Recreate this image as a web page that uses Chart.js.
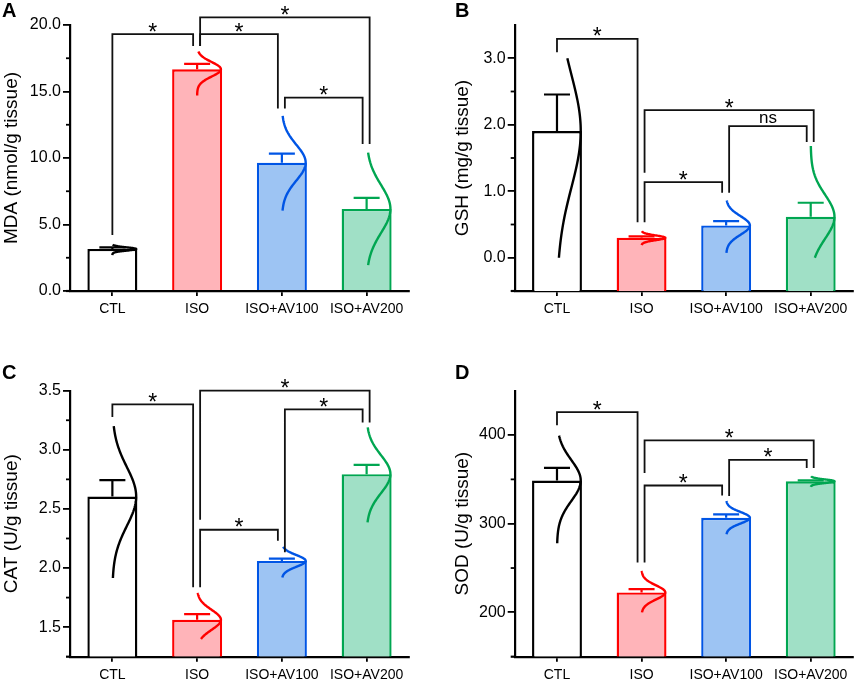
<!DOCTYPE html>
<html>
<head>
<meta charset="utf-8">
<script src="https://cdn.jsdelivr.net/npm/chart.js@4.4.1/dist/chart.umd.min.js"></script>
<style>
  html, body { margin: 0; padding: 0; background: #fff; }
  #fig { position: relative; width: 858px; height: 683px; }
  #fig canvas { position: absolute; }
</style>
</head>
<body>
<div id="fig">
  <canvas id="panelA" width="429" height="341" style="left:0;top:0"></canvas>
  <canvas id="panelB" width="429" height="341" style="left:429px;top:0"></canvas>
  <canvas id="panelC" width="429" height="342" style="left:0;top:341px"></canvas>
  <canvas id="panelD" width="429" height="342" style="left:429px;top:341px"></canvas>
</div>
<script>
const groups = ['CTL', 'ISO', 'ISO+AV100', 'ISO+AV200'];

// A - MDA
const mdaMean = [3.16, 16.67, 9.65, 6.17];
const mdaErr = [0.12, 0.40, 0.68, 0.83];
const mdaLow = [2.7, 14.7, 6.04, 1.95];
const mdaHigh = [3.5, 18.0, 13.16, 10.4];
const mdaSd = [0.12, 0.55, 1.35, 1.8];
const mdaRange = [0, 20];
const mdaTicks = [0, 5, 10, 15, 20];
// [from, to, bracket level, left leg end, right leg end, label]
const mdaPairs = [
  [0, 1, 19.32, 4.21, 18.42, '*'],
  [1, 2, 19.32, 18.42, 13.73, '*'],
  [1, 3, 20.57, 18.42, 11.05, '*'],
  [2, 3, 14.54, 13.73, 11.05, '*']
];

// B - GSH
const gshMean = [1.905, 0.30, 0.486, 0.617];
const gshErr = [0.55, 0.02, 0.064, 0.21];
const gshLow = [0.0, 0.19, 0.075, 0.0];
const gshHigh = [3.0, 0.40, 0.86, 1.68];
const gshSd = [0.85, 0.035, 0.14, 0.33];
const gshRange = [-0.5, 3.5];
const gshTicks = [0, 1, 2, 3];
const gshPairs = [
  [0, 1, 3.29, 3.09, 0.535, '*'],
  [1, 2, 1.137, 0.535, 0.977, '*'],
  [1, 3, 2.22, 1.278, 1.74, '*'],
  [2, 3, 1.98, 0.977, 1.74, 'ns']
];

// C - CAT
const catMean = [2.605, 1.562, 2.06, 2.794];
const catErr = [0.138, 0.048, 0.02, 0.079];
const catLow = [1.916, 1.40, 1.92, 2.386];
const catHigh = [3.2, 1.79, 2.18, 3.19];
const catSd = [0.25, 0.085, 0.05, 0.16];
const catRange = [1.25, 3.5];
const catTicks = [1.5, 2.0, 2.5, 3.0, 3.5];
const catPairs = [
  [0, 1, 3.385, 3.278, 1.838, '*'],
  [1, 2, 2.324, 1.838, 2.231, '*'],
  [1, 3, 3.5, 2.409, 3.23, '*'],
  [2, 3, 3.342, 2.133, 3.23, '*']
];

// D - SOD
const sodMean = [348.7, 222.5, 306.7, 347.9];
const sodErr = [14.2, 3.7, 3.8, 1.0];
const sodLow = [277.9, 200, 288, 341.6];
const sodHigh = [399.3, 246.8, 325.5, 353.6];
const sodSd = [23, 8, 6.5, 2];
const sodRange = [150, 450];
const sodTicks = [200, 300, 400];
const sodPairs = [
  [0, 1, 425.8, 410.9, 256.2, '*'],
  [1, 2, 343.1, 256.2, 331.8, '*'],
  [1, 3, 394.0, 357.3, 362.9, '*'],
  [2, 3, 371.9, 331.1, 362.9, '*']
];

// styles
const edgeColors = ['#000000', '#ff0000', '#0055e5', '#00a651'];
const fillColors = ['#ffffff', '#ffb4b9', '#9dc4f3', '#a0e0c6'];
const legSides = [[0, -1], [1, -1], [1, 1], [1, -1]];
const FONT = '"Liberation Sans", Arial, sans-serif';

Chart.defaults.font.family = FONT;
Chart.defaults.color = '#000';

function legShift(side) {
  return side < 0 ? -4 : side > 0 ? 3 : 0;
}

const overlay = {
  id: 'overlay',
  afterDatasetsDraw(chart, args, o) {
    const ctx = chart.ctx;
    const ys = chart.scales.y;
    const area = chart.chartArea;
    const bars = chart.getDatasetMeta(0).data;
    const py = v => ys.getPixelForValue(v);
    ctx.save();

    // x axis runs a little past the y axis on the left
    ctx.strokeStyle = '#000';
    ctx.lineWidth = 2.2;
    ctx.beginPath();
    ctx.moveTo(area.left - 4, area.bottom);
    ctx.lineTo(area.left, area.bottom);
    ctx.stroke();

    // minor ticks half way between the labelled ones
    ctx.lineWidth = 1.8;
    for (let k = 0; k < o.ticks.length - 1; k++) {
      const yy = py((o.ticks[k] + o.ticks[k + 1]) / 2);
      ctx.beginPath();
      ctx.moveTo(area.left - 4, yy);
      ctx.lineTo(area.left, yy);
      ctx.stroke();
    }

    // error bars (mean + SEM)
    bars.forEach((b, i) => {
      const y0 = py(o.mean[i]);
      const y1 = py(o.mean[i] + o.err[i]);
      ctx.strokeStyle = edgeColors[i];
      ctx.lineWidth = 2.2;
      ctx.beginPath();
      ctx.moveTo(b.x, y0);
      ctx.lineTo(b.x, y1);
      ctx.moveTo(b.x - 13, y1);
      ctx.lineTo(b.x + 13, y1);
      ctx.stroke();
    });

    // normal curves on the right half of each bar
    bars.forEach((b, i) => {
      const amp = b.width / 2 - 1.2;
      ctx.strokeStyle = edgeColors[i];
      ctx.lineWidth = 2.4;
      ctx.beginPath();
      const n = 80;
      for (let s = 0; s <= n; s++) {
        const v = o.low[i] + (o.high[i] - o.low[i]) * s / n;
        const z = (v - o.mean[i]) / o.sd[i];
        const xx = b.x + amp * Math.exp(-0.5 * z * z);
        if (s === 0) ctx.moveTo(xx, py(v));
        else ctx.lineTo(xx, py(v));
      }
      ctx.stroke();
    });

    // significance brackets
    ctx.strokeStyle = '#111';
    ctx.lineWidth = 1.8;
    ctx.fillStyle = '#000';
    ctx.textAlign = 'center';
    ctx.textBaseline = 'alphabetic';
    o.pairs.forEach((p, k) => {
      const [i, j, top, endL, endR, label] = p;
      const xl = bars[i].x + legShift(legSides[k][0]);
      const xr = bars[j].x + legShift(legSides[k][1]);
      const yt = py(top);
      ctx.beginPath();
      ctx.moveTo(xl, py(endL));
      ctx.lineTo(xl, yt);
      ctx.lineTo(xr, yt);
      ctx.lineTo(xr, py(endR));
      ctx.stroke();
      const xm = (xl + xr) / 2;
      if (label === '*') {
        ctx.font = '23px ' + FONT;
        ctx.fillText(label, xm, yt + 5.5);
      } else {
        ctx.font = '17px ' + FONT;
        ctx.fillText(label, xm, yt - 3.5);
      }
    });

    // panel letter
    ctx.font = 'bold 20px ' + FONT;
    ctx.textAlign = 'left';
    ctx.fillText(o.letter, o.letterX, o.letterY);
    ctx.restore();
  }
};

function makePanel(id, d, lay) {
  new Chart(document.getElementById(id), {
    type: 'bar',
    data: {
      labels: groups,
      datasets: [{
        data: d.mean,
        base: d.range[0],
        backgroundColor: fillColors,
        borderColor: edgeColors,
        borderWidth: 2.4,
        borderSkipped: 'start',
        barPercentage: 0.59,
        categoryPercentage: 1
      }]
    },
    options: {
      responsive: false,
      animation: false,
      events: [],
      layout: { padding: lay.pad },
      plugins: {
        legend: { display: false },
        tooltip: { enabled: false },
        overlay: {
          mean: d.mean, err: d.err, low: d.low, high: d.high, sd: d.sd,
          ticks: d.ticks, pairs: d.pairs,
          letter: lay.letter, letterX: lay.letterX, letterY: lay.letterY
        }
      },
      scales: {
        x: {
          grid: { offset: false, drawOnChartArea: false, tickLength: 5, color: '#000', lineWidth: 1.8 },
          border: { color: '#000', width: 2.2 },
          ticks: { color: '#000', font: { size: 14 }, padding: 5, maxRotation: 0, autoSkip: false },
          afterFit: s => { s.height = lay.xHeight; }
        },
        y: {
          min: d.range[0],
          max: d.range[1],
          grid: { drawOnChartArea: false, tickLength: 7, color: '#000', lineWidth: 1.8 },
          border: { color: '#000', width: 2.2 },
          ticks: {
            color: '#000',
            font: { size: 16 },
            padding: 2,
            callback: v => Number(v).toFixed(d.digits)
          },
          afterBuildTicks: s => { s.ticks = d.ticks.map(v => ({ value: v })); },
          afterFit: s => { s.width = lay.yWidth; },
          title: { display: true, text: d.title, color: '#000', font: { size: 19 }, padding: 0 }
        }
      }
    },
    plugins: [overlay]
  });
}

makePanel('panelA',
  { mean: mdaMean, err: mdaErr, low: mdaLow, high: mdaHigh, sd: mdaSd, range: mdaRange,
    ticks: mdaTicks, pairs: mdaPairs, digits: 1, title: 'MDA (nmol/g tissue)' },
  { pad: { left: 0, top: 25, right: 20, bottom: 0 }, yWidth: 70, xHeight: 50,
    letter: 'A', letterX: 2, letterY: 17 });

makePanel('panelB',
  { mean: gshMean, err: gshErr, low: gshLow, high: gshHigh, sd: gshSd, range: gshRange,
    ticks: gshTicks, pairs: gshPairs, digits: 1, title: 'GSH (mg/g tissue)' },
  { pad: { left: 22.3, top: 25, right: 5, bottom: 0 }, yWidth: 63.4, xHeight: 50,
    letter: 'B', letterX: 26, letterY: 17 });

makePanel('panelC',
  { mean: catMean, err: catErr, low: catLow, high: catHigh, sd: catSd, range: catRange,
    ticks: catTicks, pairs: catPairs, digits: 1, title: 'CAT (U/g tissue)' },
  { pad: { left: 0, top: 49.7, right: 20, bottom: 0 }, yWidth: 70, xHeight: 26.3,
    letter: 'C', letterX: 2, letterY: 37.5 });

makePanel('panelD',
  { mean: sodMean, err: sodErr, low: sodLow, high: sodHigh, sd: sodSd, range: sodRange,
    ticks: sodTicks, pairs: sodPairs, digits: 0, title: 'SOD (U/g tissue)' },
  { pad: { left: 22.3, top: 49.7, right: 5, bottom: 0 }, yWidth: 63.4, xHeight: 26.3,
    letter: 'D', letterX: 26, letterY: 37.5 });
</script>
</body>
</html>
